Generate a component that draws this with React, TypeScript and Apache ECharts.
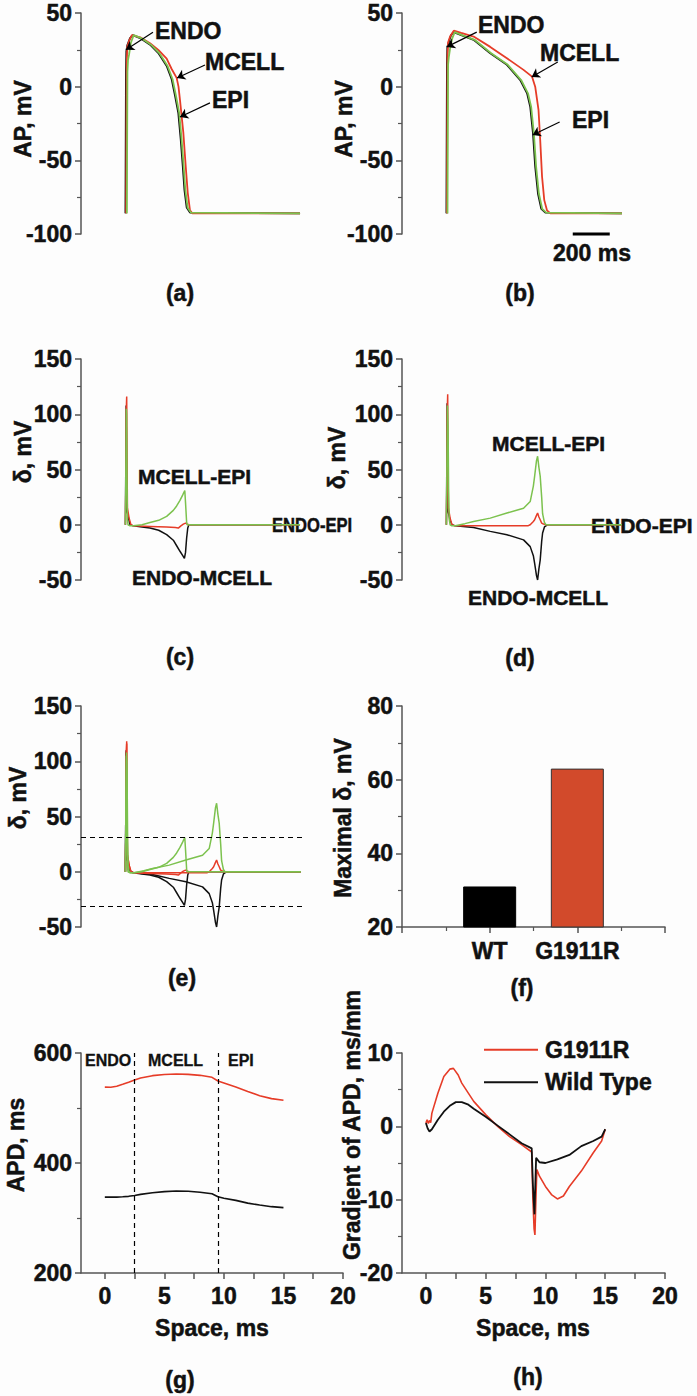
import React, { useEffect, useRef } from 'react';
import * as echarts from 'echarts';

const FONT = '"Liberation Sans", Arial, Helvetica, sans-serif';
const C_BLACK = '#111111';
const C_RED = '#e63c28';
const C_GREEN = '#7cc24e';
const C_BAR_RED = '#d24a2b';
const C_AXIS = '#555555';

// ---------- (a) Wild type action potentials: [time, ms ; AP, mV]
const AP_WT_ENDO = [[0,-86],[1,-60],[3,10],[5,24],[10,28],[25,33],[40,35],[79,33],[133,28.5],[178,22.8],[223,14],[250,5],[268,-6],[286,-18],[299,-36],[310,-54],[319,-70],[331,-82],[349,-85.5],[944,-86]];
const AP_WT_MCELL = [[4,-86],[5,-50],[7,15],[10,27],[20,31],[35,35],[80,33.5],[133,29.5],[178,25],[223,19],[250,12],[277,6],[287,0],[295,-9],[304,-20],[313,-31],[326,-54],[337,-72],[349,-84],[362,-86],[944,-86]];
const AP_WT_EPI = [[8,-86],[9,-50],[11,10],[14,18],[20,22],[30,30],[45,35],[85,33],[138,28.5],[183,22.8],[228,14],[255,5],[273,-6],[291,-18],[304,-36],[315,-54],[324,-70],[336,-82],[354,-85.5],[944,-86]];

// ---------- (b) G1911R action potentials
const AP_MUT_ENDO = [[0,-86],[1,-50],[3,15],[5,27],[12,30],[25,35],[39,37],[80,35],[147,31.8],[237,22.7],[327,14.8],[399,4.5],[436,-4.5],[453,-13.6],[468,-31.8],[480,-54.5],[495,-72.7],[513,-83],[535,-85.5],[949,-86]];
const AP_MUT_MCELL = [[3,-86],[4,-50],[6,20],[9,30],[20,34],[40,38],[80,36.5],[147,34],[237,27],[327,19.3],[417,11.4],[463,6.8],[480,0],[498,-16],[507,-36],[517,-61],[529,-77],[544,-84],[562,-86],[949,-86]];
const AP_MUT_EPI = [[6,-86],[7,-50],[9,15],[13,20],[20,26],[32,33],[45,37],[85,35],[152,31.8],[242,22.7],[332,14.8],[404,4.5],[441,-4.5],[458,-13.6],[473,-31.8],[485,-54.5],[500,-72.7],[518,-83],[540,-85.5],[949,-86]];
const SCALE_BAR = [[683,-100],[883,-100]];

// ---------- (c) Wild type transmural differences δ: [time, ms ; mV]
const D_WT_MCELL_EPI = [[0,0],[3,60],[5,105],[7,100],[9,40],[11,5],[14,0],[25,-1],[43,-1],[90,0],[133,2],[180,4],[223,7.6],[259,13],[277,17],[295,22],[310,27],[321,31],[325,20],[331,2],[334,0],[944,0]];
const D_WT_ENDO_MCELL = [[0,0],[2,50],[4,108],[6,60],[8,12],[12,10],[18,5],[25,0],[43,-1],[90,-2],[133,-3],[180,-5],[223,-9],[259,-14],[277,-19],[295,-24],[310,-28],[319,-30.5],[325,-25],[331,-12],[337,-3],[343,0],[944,0]];
const D_WT_ENDO_EPI = [[0,0],[2,30],[4,100],[7,116],[9,60],[11,15],[14,12],[20,6],[30,0],[43,-1],[133,-1.5],[223,-2],[270,-2.5],[286,-3],[300,-1],[313,0.5],[325,1.5],[335,0.5],[343,0],[944,0]];

// ---------- (d) G1911R transmural differences δ
const D_MUT_MCELL_EPI = [[0,0],[3,60],[6,108],[9,90],[12,30],[15,5],[20,0],[30,-1],[48,-1],[100,1],[147,3],[237,6],[327,10.6],[417,15],[453,21],[470,35],[477,44],[487,58],[493,62],[500,52],[507,44],[515,25],[520,10],[530,2],[538,0],[949,0]];
const D_MUT_ENDO_MCELL = [[0,0],[2,50],[4,110],[6,60],[8,12],[12,10],[20,4],[30,0],[48,-1],[147,-2.4],[237,-6],[327,-9],[417,-13.7],[453,-19.8],[470,-28],[477,-35],[487,-46],[493,-50],[500,-40],[507,-32],[515,-15],[520,-7.5],[530,-2],[538,-1],[545,0],[949,0]];
const D_MUT_ENDO_EPI = [[0,0],[2,30],[4,100],[7,118],[9,60],[11,15],[14,12],[20,6],[30,0],[48,-1],[147,-1],[327,-1],[440,-1],[453,0],[470,3],[477,4.5],[487,8.5],[493,10.6],[500,7],[507,4.5],[515,1.5],[525,0.6],[538,0],[949,0]];
const DELTA_THRESHOLDS = [31, -31];

// ---------- (f) maximal δ
const MAX_DELTA_CATS = ['WT', 'G1911R'];
const MAX_DELTA_POS = [1, 2];
const MAX_DELTA = [31, 63];

// ---------- (g) APD across the wall
const APD_X = [0,0.5,1,1.5,2,2.5,3,4,5,6,7,8,9,9.5,10,11,12,13,14,15];
const APD_MUT = [538,537.6,539.5,543,546.7,551,554.5,558.8,561,561.8,561.2,559.4,555.8,549,545.5,538,530,522.4,517,514];
const APD_WT = [338,338,338,338.5,339.4,341,343,346,348,349,348.5,346.7,344,338.5,336,332,327,323.6,320.6,318.8];
const ZONE_BOUNDS = [2.5, 9.5];

// ---------- (h) APD gradient: [space ; ms/mm]
const GRAD_MUT = [[0,0.45],[0.1,0.9],[0.2,0.4],[0.3,0.8],[0.4,0.5],[0.5,1.8],[1,4.5],[1.5,6.8],[2,7.8],[2.3,7.9],[2.7,7.0],[3,5.9],[4,3.4],[5,1.6],[6,0],[7,-1.4],[8,-2.5],[8.85,-3.5],[8.95,-10],[9.05,-14],[9.12,-14.8],[9.2,-10],[9.28,-5.9],[9.5,-6.8],[10,-8.2],[10.5,-9.3],[11,-9.9],[11.5,-9.5],[12,-8.2],[13,-6.1],[14,-3.6],[14.7,-2.0],[15,-0.4]];
const GRAD_WT = [[0,0.45],[0.15,-0.3],[0.3,-0.7],[0.5,-0.4],[1,0.9],[1.5,2.0],[2,2.8],[2.5,3.3],[3,3.3],[3.5,3.0],[4,2.4],[5,1.3],[6,0.1],[7,-1.1],[8,-2.3],[8.85,-3.0],[8.95,-8],[9.08,-12],[9.15,-8],[9.22,-4.3],[9.5,-4.9],[10,-5.0],[11,-4.5],[12,-3.9],[13,-2.7],[14,-2.0],[14.7,-1.4],[15,-0.4]];

const SPACE_TICKS = [0, 2.5, 5, 7.5, 10, 12.5, 15, 17.5, 20];
const SPACE_LABELS = [0, 5, 10, 15, 20];

// annotation arrows [t1, v1, t2, v2] (tail -> head), data coordinates
const ARROWS_A = [[149,37,3,25],[430,14.7,279,5.9],[457,-11,295,-20.6]];
const ARROWS_B = [[164,37,2,27],[602,16.7,461,6.6],[612,-24,466,-32.8]];

const LABEL_STYLE = {
  fontSize: 23, fontWeight: 'bold', fontFamily: FONT, color: C_BLACK,
  textBorderColor: C_BLACK, textBorderWidth: 0.5,
};

function yAx(gridIndex: number, min: number, max: number, interval: number) {
  return {
    type: 'value', gridIndex, min, max, interval,
    axisLine: { show: true, onZero: false, lineStyle: { color: C_AXIS, width: 1.5 } },
    axisTick: { show: true, length: 6, lineStyle: { color: C_AXIS, width: 1.5 } },
    minorTick: { show: true, splitNumber: 2, length: 4, lineStyle: { color: C_AXIS, width: 1.2 } },
    splitLine: { show: false },
    minorSplitLine: { show: false },
    axisLabel: { ...LABEL_STYLE, margin: 9 },
  };
}

function timeX(gridIndex: number) {
  return { type: 'value', gridIndex, min: -240, max: 960, show: false, axisLine: { onZero: false }, splitLine: { show: false } };
}

function spaceX(gridIndex: number) {
  return {
    type: 'value', gridIndex, min: -2, max: 20,
    axisLine: { show: true, onZero: false, lineStyle: { color: C_AXIS, width: 1.5 } },
    axisTick: { show: true, length: 6, customValues: SPACE_TICKS, lineStyle: { color: C_AXIS, width: 1.5 } },
    splitLine: { show: false },
    axisLabel: { ...LABEL_STYLE, customValues: SPACE_LABELS, margin: 11 },
  };
}

function line(name: string, xi: number, yi: number, data: any, color: string, width = 1.6, extra: any = {}) {
  return {
    type: 'line', name, xAxisIndex: xi, yAxisIndex: yi, data,
    symbol: 'none', showSymbol: false, silent: true,
    lineStyle: { color, width }, itemStyle: { color },
    ...extra,
  };
}

function arrows(list: number[][]) {
  return {
    silent: true,
    symbol: ['none', 'arrow'],
    symbolSize: 8,
    label: { show: false },
    lineStyle: { color: '#000', width: 1.2, type: 'solid' },
    data: list.map(([a, b, c, d]) => [{ coord: [a, b] }, { coord: [c, d] }]),
  };
}

function txt(text: string, x: number, y: number, o: any = {}) {
  const align = o.align || 'left';
  return {
    type: 'text', x, y, rotation: o.rotation || 0, scaleX: o.scaleX || 1,
    silent: true,
    style: {
      text, fill: C_BLACK,
      stroke: C_BLACK, lineWidth: o.stroke != null ? o.stroke : 0.5,
      fontSize: o.size || 23, fontWeight: 'bold', fontFamily: FONT,
      align, verticalAlign: 'middle', textAlign: align, textVerticalAlign: 'middle',
    },
  };
}

function buildOption() {
  const grids = [
    { left: 81, top: 13, width: 222, height: 221 },
    { left: 402, top: 13, width: 222, height: 221 },
    { left: 81, top: 359, width: 222, height: 221 },
    { left: 402, top: 359, width: 222, height: 221 },
    { left: 81, top: 706, width: 222, height: 221 },
    { left: 402, top: 706, width: 263, height: 221 },
    { left: 81, top: 1053, width: 262, height: 220 },
    { left: 402, top: 1053, width: 263, height: 220 },
  ].map((g) => ({ ...g, containLabel: false, outerBoundsMode: 'none' }));

  const xAxis = [
    timeX(0), timeX(1), timeX(2), timeX(3), timeX(4),
    {
      type: 'value', gridIndex: 5, min: 0, max: 3, interval: 1,
      axisLine: { show: true, onZero: false, lineStyle: { color: C_AXIS, width: 1.5 } },
      axisTick: { show: true, length: 6, lineStyle: { color: C_AXIS, width: 1.5 } },
      minorTick: { show: true, splitNumber: 2, length: 4, lineStyle: { color: C_AXIS, width: 1.2 } },
      splitLine: { show: false }, minorSplitLine: { show: false },
      axisLabel: {
        ...LABEL_STYLE, margin: 12,
        formatter: (v: number) => { const i = MAX_DELTA_POS.indexOf(v); return i >= 0 ? MAX_DELTA_CATS[i] : ''; },
      },
    },
    spaceX(6), spaceX(7),
  ];

  const yAxis = [
    yAx(0, -100, 50, 50), yAx(1, -100, 50, 50),
    yAx(2, -50, 150, 50), yAx(3, -50, 150, 50), yAx(4, -50, 150, 50),
    yAx(5, 20, 80, 20),
    yAx(6, 200, 600, 200), yAx(7, -20, 10, 10),
  ];

  const series: any[] = [
    // (a)
    line('a ENDO', 0, 0, AP_WT_ENDO, C_BLACK, 1.8, { markLine: arrows(ARROWS_A) }),
    line('a MCELL', 0, 0, AP_WT_MCELL, C_RED, 1.8),
    line('a EPI', 0, 0, AP_WT_EPI, C_GREEN, 1.8),
    // (b)
    line('b ENDO', 1, 1, AP_MUT_ENDO, C_BLACK, 1.8, { markLine: arrows(ARROWS_B) }),
    line('b MCELL', 1, 1, AP_MUT_MCELL, C_RED, 1.8),
    line('b EPI', 1, 1, AP_MUT_EPI, C_GREEN, 1.8),
    line('b scale', 1, 1, SCALE_BAR, '#000', 3, { clip: false }),
    // (c)
    line('c EM', 2, 2, D_WT_ENDO_MCELL, C_BLACK, 1.5),
    line('c EE', 2, 2, D_WT_ENDO_EPI, C_RED, 1.5),
    line('c ME', 2, 2, D_WT_MCELL_EPI, C_GREEN, 1.5),
    // (d)
    line('d EM', 3, 3, D_MUT_ENDO_MCELL, C_BLACK, 1.5),
    line('d EE', 3, 3, D_MUT_ENDO_EPI, C_RED, 1.5),
    line('d ME', 3, 3, D_MUT_MCELL_EPI, C_GREEN, 1.5),
    // (e)
    line('e EM wt', 4, 4, D_WT_ENDO_MCELL, C_BLACK, 1.5, {
      markLine: {
        silent: true, symbol: 'none', label: { show: false },
        lineStyle: { color: '#000', width: 1.2, type: [5, 4] },
        data: DELTA_THRESHOLDS.map((v) => ({ yAxis: v })),
      },
    }),
    line('e EM mut', 4, 4, D_MUT_ENDO_MCELL, C_BLACK, 1.5),
    line('e EE wt', 4, 4, D_WT_ENDO_EPI, C_RED, 1.5),
    line('e EE mut', 4, 4, D_MUT_ENDO_EPI, C_RED, 1.5),
    line('e ME wt', 4, 4, D_WT_MCELL_EPI, C_GREEN, 1.5),
    line('e ME mut', 4, 4, D_MUT_MCELL_EPI, C_GREEN, 1.5),
    // (f)
    {
      type: 'bar', name: 'max delta', xAxisIndex: 5, yAxisIndex: 5, barWidth: 53, silent: true,
      data: MAX_DELTA.map((v, i) => ({
        value: [MAX_DELTA_POS[i], v],
        itemStyle: i === 0 ? { color: '#000', borderColor: '#000', borderWidth: 1 } : { color: C_BAR_RED, borderColor: '#333', borderWidth: 1 },
      })),
    },
    // (g)
    line('G1911R APD', 6, 6, APD_X.map((x, i) => [x, APD_MUT[i]]), C_RED, 1.6, {
      markLine: {
        silent: true, symbol: 'none', label: { show: false },
        lineStyle: { color: '#000', width: 1.2, type: [5, 4] },
        data: ZONE_BOUNDS.map((v) => ({ xAxis: v })),
      },
    }),
    line('WT APD', 6, 6, APD_X.map((x, i) => [x, APD_WT[i]]), C_BLACK, 1.6),
    // (h)
    line('G1911R', 7, 7, GRAD_MUT, C_RED, 1.6),
    line('Wild Type', 7, 7, GRAD_WT, C_BLACK, 1.8),
  ];

  const graphic = [
    // (a)
    txt('ENDO', 155, 31), txt('MCELL', 205, 62), txt('EPI', 212, 100),
    txt('(a)', 180, 293, { align: 'center' }),
    txt('AP, mV', 23, 119, { align: 'center', rotation: Math.PI / 2 }),
    // (b)
    txt('ENDO', 478, 25), txt('MCELL', 540, 53), txt('EPI', 572, 120),
    txt('200 ms', 592, 253, { align: 'center' }),
    txt('(b)', 520, 293, { align: 'center' }),
    txt('AP, mV', 344, 119, { align: 'center', rotation: Math.PI / 2 }),
    // (c)
    txt('MCELL-EPI', 138, 476, { size: 21 }), txt('ENDO-MCELL', 132, 577, { size: 21 }),
    txt('ENDO-EPI', 272, 525, { size: 21, scaleX: 0.79 }),
    txt('(c)', 180, 657, { align: 'center' }),
    txt('δ, mV', 23, 452, { align: 'center', rotation: Math.PI / 2 }),
    // (d)
    txt('MCELL-EPI', 492, 443, { size: 21 }), txt('ENDO-MCELL', 468, 597, { size: 21 }),
    txt('ENDO-EPI', 591, 525, { size: 21 }),
    txt('(d)', 520, 658, { align: 'center' }),
    txt('δ, mV', 337, 458, { align: 'center', rotation: Math.PI / 2 }),
    // (e)
    txt('(e)', 182, 978, { align: 'center' }),
    txt('δ, mV', 18, 798, { align: 'center', rotation: Math.PI / 2 }),
    // (f)
    txt('(f)', 522, 988, { align: 'center' }),
    txt('Maximal δ, mV', 343, 818, { align: 'center', rotation: Math.PI / 2 }),
    // (g)
    txt('ENDO', 85, 1060, { size: 16, stroke: 0.3 }), txt('MCELL', 148, 1060, { size: 16, stroke: 0.3 }), txt('EPI', 228, 1060, { size: 16, stroke: 0.3 }),
    txt('Space, ms', 212, 1328, { align: 'center' }),
    txt('(g)', 180, 1380, { align: 'center' }),
    txt('APD, ms', 16, 1145, { align: 'center', rotation: Math.PI / 2 }),
    // (h)
    txt('Space, ms', 533, 1328, { align: 'center' }),
    txt('(h)', 528, 1377, { align: 'center' }),
    txt('Gradient of APD, ms/mm', 352, 1125, { align: 'center', rotation: Math.PI / 2 }),
  ];

  return {
    animation: false,
    backgroundColor: '#fdfdfd',
    textStyle: { fontFamily: FONT },
    grid: grids,
    xAxis,
    yAxis,
    series,
    legend: {
      data: ['G1911R', 'Wild Type'],
      orient: 'vertical', left: 479, top: 1033,
      icon: 'rect',
      itemWidth: 54, itemHeight: 2, itemGap: 9,
      selectedMode: false,
      textStyle: { ...LABEL_STYLE, padding: [0, 0, 0, 2] },
    },
    graphic,
  };
}

export default function App() {
  const ref = useRef<HTMLDivElement>(null);
  useEffect(() => {
    if (!ref.current) return;
    const chart = echarts.init(ref.current, null, { renderer: 'svg' });
    chart.setOption(buildOption() as any);
    return () => chart.dispose();
  }, []);
  return (
    <div
      ref={ref}
      style={{ position: 'absolute', left: 0, top: 0, width: 697, height: 1396 }}
    />
  );
}
